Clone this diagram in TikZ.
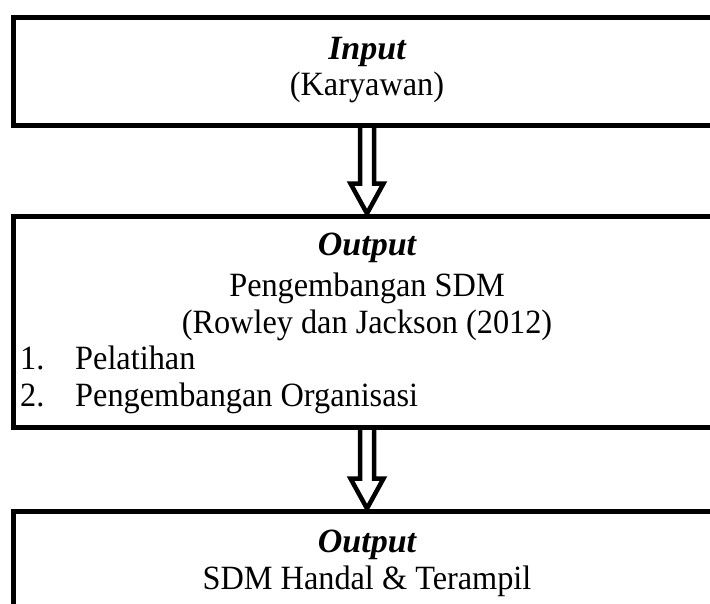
\documentclass[tikz,border=0pt]{standalone}
\usepackage{fontspec}
\setmainfont[FakeStretch=0.95]{Liberation Serif}
\newfontfamily\titlefont{Liberation Serif}
\usetikzlibrary{positioning, calc}

\newcommand{\hollowarrow}[2]{%
  \draw[arrowline] ($(#1.south)+(-7,0)$) -- ($(#2.north)+(-7,-30)$)
    -- ($(#2.north)+(-16.5,-30)$) -- (#2.north) -- ($(#2.north)+(16.5,-30)$)
    -- ($(#2.north)+(7,-30)$) -- ($(#1.south)+(7,0)$);}

\begin{document}
\begin{tikzpicture}[x=1pt, y=-1pt,
  box/.style={draw, line width=5pt, minimum width=708pt, inner sep=0pt},
  txt/.style={anchor=base, inner sep=0pt, font=\fontsize{34}{40}\selectfont},
  title/.style={txt, font=\fontsize{34}{40}\titlefont\bfseries\itshape},
  arrowline/.style={line width=4.5pt, miter limit=20}]
\useasboundingbox (0,0) rectangle (710,603);
\clip (0,0) rectangle (710,603);

% Input
\node[box, minimum height=108pt] (input) at (367,71) {};
\node[title] (inputTitle) at (367,59) {Input};
\node[txt] (inputText) at (367,95) {(Karyawan)};

% Proses
\node[box, minimum height=211pt] (proses) at (367,321.5) {};
\node[title] (prosesTitle) at (367,255) {Output};
\node[txt] (prosesText) at (367,296) {Pengembangan SDM};
\node[txt] (prosesRef) at (367,333) {(Rowley dan Jackson (2012)};
\node[txt, anchor=base west] (num1) at (20,369) {1.};
\node[txt, anchor=base west] (item1) at (75,369) {Pelatihan};
\node[txt, anchor=base west] (num2) at (20,406) {2.};
\node[txt, anchor=base west] (item2) at (75,406) {Pengembangan Organisasi};

% Hasil
\node[box, minimum height=218pt] (hasil) at (367,620) {};
\node[title] (hasilTitle) at (367,552) {Output};
\node[txt] (hasilText) at (367,589) {SDM Handal \& Terampil};

% Arrows
\hollowarrow{input}{proses}
\hollowarrow{proses}{hasil}
\end{tikzpicture}
\end{document}
